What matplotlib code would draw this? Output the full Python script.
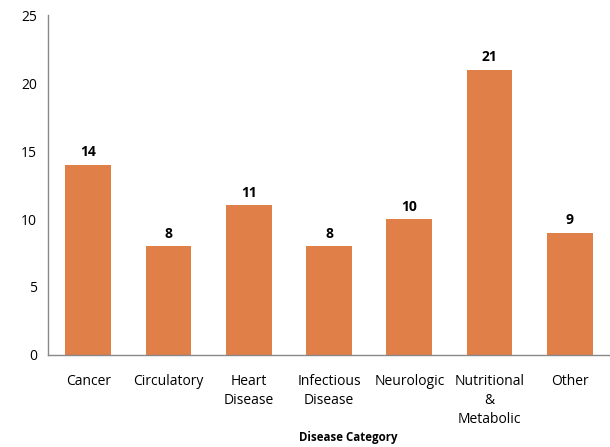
import matplotlib.pyplot as plt

plt.rcParams['font.family'] = ['Open Sans', 'DejaVu Sans']

# data
categories = ["Cancer", "Circulatory", "Heart\nDisease", "Infectious\nDisease",
              "Neurologic", "Nutritional\n&\nMetabolic", "Other"]
counts = [14, 8, 11, 8, 10, 21, 9]

bar_color = "#E07F48"

fig = plt.figure(figsize=(6.1, 4.47), dpi=100)
ax = fig.add_axes([0.079, 0.206, 0.921, 0.760])

bars = ax.bar(range(len(categories)), counts, width=0.57, color=bar_color)

for b, v in zip(bars, counts):
    ax.text(b.get_x() + b.get_width() / 2, v + 0.4, str(v),
            ha="center", va="bottom", fontsize=10, fontweight="bold")

ax.set_xlim(-0.5, len(categories) - 0.5)
ax.set_ylim(0, 25)
ax.set_yticks([0, 5, 10, 15, 20, 25])
ax.set_xticks(range(len(categories)))
ax.set_xticklabels(categories, fontsize=10, linespacing=1.35, va="top")
ax.tick_params(axis="both", length=0, labelsize=10, pad=8)
ax.tick_params(axis="x", pad=14)

for s in ["top", "right"]:
    ax.spines[s].set_visible(False)
for s in ["left", "bottom"]:
    ax.spines[s].set_color("#888888")
    ax.spines[s].set_linewidth(1.0)

fig.text(348 / 610, 1 - 437 / 447, "Disease Category", ha="center", va="center",
         fontsize=8.3, fontweight="bold")

fig.savefig("out.png", dpi=100)
